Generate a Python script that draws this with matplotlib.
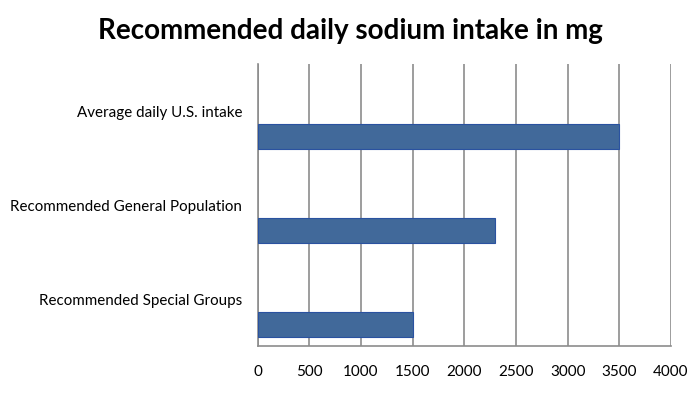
import matplotlib
matplotlib.use("Agg")
import matplotlib.pyplot as plt

categories = ["Average daily U.S. intake", "Recommended General Population", "Recommended Special Groups"]
values = [3500, 2300, 1500]
xticks = [0, 500, 1000, 1500, 2000, 2500, 3000, 3500, 4000]

plt.rcParams['font.family'] = ['Lato', 'DejaVu Sans']

fig = plt.figure(figsize=(7, 3.95), dpi=100)
ax = fig.add_axes([257.5/700, 49/395, (671-257.5)/700, (346-64)/395])

ypos = [len(categories) - 1 - i for i in range(len(categories))]
bar_y = [y - 0.27 for y in ypos]
ax.barh(bar_y, values, height=0.263, color="#41699A", edgecolor="#2A52A0", linewidth=0.8, zorder=3)

ax.set_xlim(0, 4000)
ax.set_ylim(-0.5, len(categories) - 0.5)
ax.set_xticks(xticks)
ax.set_xticklabels([str(t) for t in xticks], fontsize=11)
ax.set_yticks(ypos)
ax.set_yticklabels(categories, fontsize=10.9)
ax.tick_params(axis='y', length=0, pad=11)
ax.tick_params(axis='x', length=0, pad=14)
ax.grid(axis='x', color="#8C8C8C", linewidth=1.2, zorder=0)
for s in ['top', 'right']:
    ax.spines[s].set_visible(False)
for s in ['left', 'bottom']:
    ax.spines[s].set_color("#8C8C8C")
    ax.spines[s].set_linewidth(1.2)

fig.text(0.5, 0.922, "Recommended daily sodium intake in mg", ha='center', va='center',
         fontsize=20, fontweight='bold')

fig.savefig("out.png", dpi=100)
